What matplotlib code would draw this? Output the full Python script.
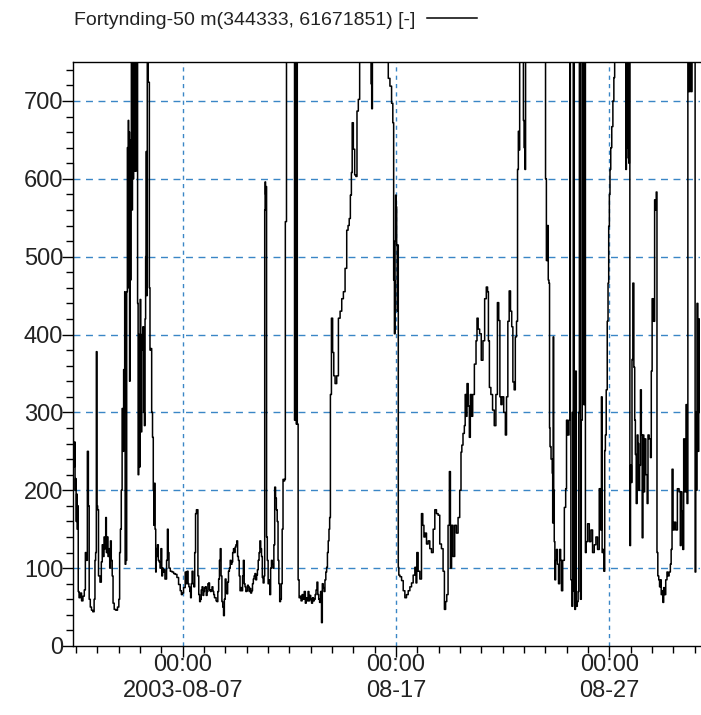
import datetime as dt
import matplotlib
matplotlib.use("Agg")
import matplotlib.pyplot as plt
import matplotlib.dates as mdates
from matplotlib.ticker import MultipleLocator

plt.rcParams['font.family'] = ['Liberation Sans', 'DejaVu Sans']

# ---- data: (hours since 2003-08-01 00:00, value) ----
seg_aug01 = [(20.7,620),(21.3,255),(22.0,230),(22.6,262),(23.2,200),(23.8,215),(24.4,160),(25.0,195),(25.6,150),(26.2,180),(26.8,70),(28.0,62),(29.5,68),(31.0,58),(32.6,64),(34.0,72),(35.0,120),(36.0,110),(37.5,250),(38.3,180),(39.3,60),(40.8,50),(42.0,46),(43.7,44),(45.0,60),(45.6,110),(46.5,120),(47.2,378),(48.0,180),(48.6,175),(50.0,90),(51.9,82),(53.0,108),(54.0,130),(55.0,115),(56.0,140),(57.0,125),(57.8,165),(58.5,120),(59.5,140),(60.4,115),(61.5,125),(62.3,100),(63.2,135),(64.1,110),(65.3,90),(66.0,55),(67.9,47),(69.7,46),(71.6,50),(72.7,60)]

seg_aug04 = [(73.4,120),(74.5,150),(75.3,200),(76.4,305),(77.2,250),(77.9,355),(78.5,300),(79.0,455),(79.5,105),(80.5,110),(81.5,455),(82.0,640),(82.5,460),(83.0,675),(83.5,500),(84.0,660),(84.5,340),(85.0,600),(85.5,470),(86.0,650),(86.5,800),(87.2,560),(87.8,800),(88.5,600),(89.2,800),(90.0,610),(90.5,800),(91.5,610),(92.2,800),(93.0,800),(93.5,440),(94.2,220),(95.0,400),(95.7,230),(96.5,445),(97.2,300),(97.6,275),(98.3,400),(99.0,380),(99.5,410),(100.5,300),(101.3,283),(102.0,420),(102.6,500),(103.1,635),(103.8,450),(104.5,800),(105.0,800),(105.5,724),(106.1,724),(106.9,460),(107.5,380),(108.7,382),(109.5,300),(110.6,268),(111.2,200),(111.7,155),(112.5,209),(113.3,150),(114.0,95),(114.3,125),(115.2,115),(116.1,130),(117.0,110),(118.0,108),(119.0,100),(119.9,125),(121.0,90),(121.7,100),(122.5,95),(123.6,98),(124.5,86),(125.4,86),(126.3,110),(127.3,150),(128.0,120),(129.1,100),(131.0,96),(132.9,95),(134.7,93),(136.6,92),(138.4,88),(140.3,79),(142.1,71),(143.0,66)]

seg_aug07 = [(144.0,68),(145.9,75),(147.7,95),(148.5,80),(149.6,96),(150.5,80),(151.4,76),(152.5,70),(153.3,62),(154.0,80),(155.1,96),(156.0,80),(157.0,76),(158.0,120),(158.9,170),(160.0,175),(160.7,175),(161.5,90),(162.6,66),(163.5,57),(164.4,60),(165.3,72),(166.3,76),(167.2,65),(168.1,70),(169.0,75),(170.0,76),(171.0,65),(171.9,70),(172.8,80),(173.7,81),(174.6,72),(175.6,70),(176.5,72),(177.4,76),(178.5,70),(179.3,66),(180.2,62),(181.1,62),(182.0,58),(183.0,57),(184.0,70),(184.9,86),(185.8,110),(186.7,125),(187.6,90),(188.6,57),(189.5,50),(190.4,39),(191.3,60),(192.3,86),(193.2,70),(194.1,67),(195.0,82),(196.0,96),(197.0,100),(197.9,110),(199.0,105),(199.7,108),(200.7,120),(201.6,125),(202.5,120),(203.4,127),(204.3,130),(205.3,135),(206.2,115),(207.1,110),(208.0,90),(209.0,71),(210.0,75),(210.9,71),(211.8,90),(212.7,110),(213.6,80),(214.6,76),(215.5,70),(216.4,71),(217.4,78),(218.3,76),(219.2,70),(220.1,74),(221.0,68),(222.0,71),(223.0,80),(223.9,86),(224.8,90),(225.7,93),(226.7,85),(227.6,91),(228.5,98),(229.4,110),(230.4,120),(231.3,135),(232.2,125),(233.1,115),(234.0,88),(235.0,81),(236.0,90)]

seg_aug10 = [(236.5,560),(236.9,596),(237.5,580),(238.0,590),(238.7,140),(239.6,110),(240.6,80),(241.5,85),(242.4,66),(243.4,100),(244.3,110),(245.2,105),(246.1,100),(247.0,130),(248.0,204),(248.9,190),(249.8,175),(250.8,160),(251.7,110),(252.6,80),(253.6,57),(254.5,60),(255.4,80),(256.4,150),(257.3,214),(258.2,212),(259.1,214),(259.8,545),(260.5,545),(261.0,800),(263.0,800),(265.0,800),(267.0,800),(269.6,800),(270.0,290),(270.5,800),(271.0,300),(271.5,800),(272.0,285),(272.5,800),(273.3,285),(274.4,85),(275.5,62),(276.5,64),(277.7,58),(279.0,66),(280.0,60),(281.4,70),(282.5,55),(283.3,62),(284.5,58),(285.5,70),(286.5,58),(287.5,65),(288.5,60),(289.5,55),(290.5,62),(291.5,58),(292.5,60),(293.5,66),(294.5,72),(295.5,82),(296.5,66),(297.5,60),(298.5,56),(299.7,70),(300.6,30),(301.5,80),(302.5,75),(303.5,70),(304.5,85),(305.5,95),(306.3,101),(307.3,120),(308.1,135),(309.0,150),(309.6,165),(310.7,323),(311.9,421),(313.4,377),(314.5,347),(316.3,337),(318.2,347),(320.1,421),(322.0,430),(323.8,446),(325.7,455),(327.6,485),(329.4,534),(330.6,540),(332.0,549),(333.2,579),(334.3,608),(335.0,672),(336.9,638),(338.0,605),(339.5,603),(340.6,687),(342.5,702),(343.6,800)]

seg_aug15 = [(345.0,800),(350.0,800),(355.5,800),(356.2,722),(357.0,690),(357.8,800),(365.0,800),(374.3,800),(376.2,729),(378.0,719),(379.9,697),(380.8,672),(381.8,470),(382.5,401),(383.2,520),(383.8,579),(384.4,564),(385.0,515),(385.6,430),(386.2,515),(386.8,101),(387.4,91),(389.3,89),(391.1,84),(393.0,71),(394.8,62),(396.7,66),(398.6,71),(400.5,76),(402.3,81),(404.2,91),(406.1,101),(406.8,81),(407.9,120),(409.8,96),(411.7,86),(413.5,170),(414.6,155),(416.1,140),(417.3,145),(419.2,131),(421.0,135),(422.9,125),(424.8,120),(426.7,150),(428.5,175),(430.4,170),(432.2,168),(434.1,131),(436.0,125),(437.8,96),(439.0,47),(440.5,57),(441.6,66),(443.4,155),(444.6,224),(445.7,100),(447.2,155),(449.0,115),(450.9,155),(452.8,145),(454.7,165),(456.5,200),(457.6,249),(458.4,258),(460.2,273),(461.4,283),(462.1,323),(463.2,295),(464.4,337),(465.9,308),(467.0,268),(468.1,323),(469.6,295),(470.8,323),(473.4,362),(474.5,392),(475.6,421),(477.1,407),(478.9,401),(480.8,367),(482.7,392),(484.6,446),(486.4,461),(487.5,455),(488.3,392),(489.7,332),(491.6,323),(493.5,303),(495.4,283),(497.2,323),(498.8,441),(500.2,418),(501.4,320),(502.5,310),(504.0,320),(506.2,300),(507.7,271),(508.8,320),(510.7,417),(511.8,456),(513.7,430),(514.5,410),(516.3,339),(517.4,329),(518.9,397),(520.1,417),(521.2,612),(521.9,661),(522.7,637),(523.4,800)]

seg_aug22 = [(527.0,800),(527.5,675),(528.5,640),(529.4,612),(530.0,800),(540.0,800),(551.8,800),(552.5,600),(553.7,495),(554.8,540),(555.6,470),(556.3,466),(557.0,280),(557.4,256),(559.3,240),(560.0,222),(560.4,158),(561.1,397),(561.6,200),(562.3,134),(563.0,85),(564.0,110),(564.9,124),(566.0,105),(567.5,80),(568.6,124),(569.7,110),(570.5,71),(572.4,110),(574.2,178),(575.4,202),(576.1,290),(578.0,271),(579.1,290),(579.8,800),(580.3,300),(581.0,85),(582.5,51),(583.0,300),(583.6,800),(584.2,800),(584.7,70),(585.5,47),(586.2,353),(587.3,51),(588.4,57),(589.2,70),(589.9,300),(590.5,800),(591.1,800),(591.8,60),(592.9,290),(594.0,800),(594.8,800),(595.5,310),(596.7,800),(597.3,120),(598.5,134),(600.4,157),(602.3,134),(604.1,149),(606.0,120),(607.9,130),(609.7,140),(611.6,124),(613.5,202),(614.6,149),(615.4,320),(616.2,120),(617.2,124),(618.3,96),(619.1,251),(619.8,271),(621.0,329),(622.1,417),(622.8,466),(623.6,539),(624.3,580),(625.0,612),(626.0,640),(627.3,667),(628.5,700),(629.5,730),(630.3,800)]

seg_aug27 = [(635.0,800),(642.0,800),(642.8,612),(643.5,627),(644.2,800),(645.0,640),(645.6,800),(646.1,620),(646.8,800),(647.2,129),(648.3,232),(649.0,210),(649.8,368),(650.9,466),(652.1,358),(652.8,290),(653.6,246),(654.7,183),(655.8,271),(656.5,260),(657.5,200),(658.4,232),(659.5,329),(660.3,271),(661.4,139),(662.1,271),(663.3,198),(664.0,266),(665.9,220),(667.0,183),(667.8,271),(669.6,266),(670.7,242),(671.5,353),(672.6,446),(674.5,417),(675.2,573),(676.2,560),(677.1,583),(677.9,120),(679.0,90),(680.0,85),(680.8,76),(681.8,85),(682.7,66),(683.6,71),(684.6,56),(685.5,75),(686.4,66),(688.3,85),(689.2,95),(690.2,90),(692.1,95),(693.0,105),(693.9,124),(695.0,227),(696.2,149),(697.7,159),(699.5,149),(701.4,202),(703.3,198),(704.2,129),(705.1,198),(706.0,173),(707.0,124),(708.1,266),(709.6,198),(710.7,310),(711.9,183),(712.6,800),(714.0,712),(715.0,800),(716.4,712),(717.5,800),(720.0,800),(720.8,95),(721.5,300),(722.0,200),(723.0,440),(724.0,250),(725.0,420),(725.9,300)]

series_label = "Fortynding-50 m(344333, 61671851) [-]"
tick_dates = [dt.datetime(2003, 8, 7), dt.datetime(2003, 8, 17), dt.datetime(2003, 8, 27)]
tick_labels = ["00:00\n2003-08-07", "00:00\n08-17", "00:00\n08-27"]
y_ticks = [0, 100, 200, 300, 400, 500, 600, 700]
t0 = dt.datetime(2003, 8, 1)
x_range_hours = (20.6, 725.9)
y_range = (0, 750)

points = seg_aug01 + seg_aug04 + seg_aug07 + seg_aug10 + seg_aug15 + seg_aug22 + seg_aug27
times = [t0 + dt.timedelta(hours=h) for h, _ in points]
vals = [v for _, v in points]

fig = plt.figure(figsize=(7.01, 7.15), dpi=100)
ax = fig.add_axes([73/701, 1 - 646/715, 627/701, (646 - 62)/715])

grid_c = '#3a86c6'
for yv in y_ticks[1:]:
    ax.axhline(yv, color=grid_c, lw=1.0, ls=(0, (5, 4)), zorder=1)
for d in tick_dates:
    ax.axvline(d, color=grid_c, lw=1.0, ls=(0, (3, 3)), zorder=1)

line, = ax.plot(times, vals, color='black', lw=1.1, zorder=3, label=series_label,
                drawstyle='steps-mid')

ax.set_xlim(t0 + dt.timedelta(hours=x_range_hours[0]), t0 + dt.timedelta(hours=x_range_hours[1]))
ax.set_ylim(*y_range)

ax.set_yticks(y_ticks)
ax.yaxis.set_minor_locator(MultipleLocator(20))
ax.set_xticks(tick_dates)
ax.set_xticklabels(tick_labels)
ax.xaxis.set_minor_locator(mdates.DayLocator())

ax.tick_params(axis='both', which='major', direction='out', length=8, width=1, labelsize=17,
               colors='black', labelcolor='#222222')
ax.tick_params(axis='both', which='minor', direction='out', length=5, width=1)
ax.tick_params(axis='x', which='major', pad=-2)
ax.tick_params(axis='y', which='major', pad=-1)
ax.spines['right'].set_visible(False)
for s in ['left', 'top', 'bottom']:
    ax.spines[s].set_linewidth(1.0)
for lab in ax.get_xticklabels():
    lab.set_linespacing(1.2)

fig.legend(handles=[line], loc='upper left', bbox_to_anchor=(60/701, 1 + 2/715), frameon=False,
           markerfirst=False, fontsize=14, handlelength=2.6, handletextpad=0.6, borderpad=0.2,
           labelcolor='#222222')

fig.savefig('out.png', dpi=100)
